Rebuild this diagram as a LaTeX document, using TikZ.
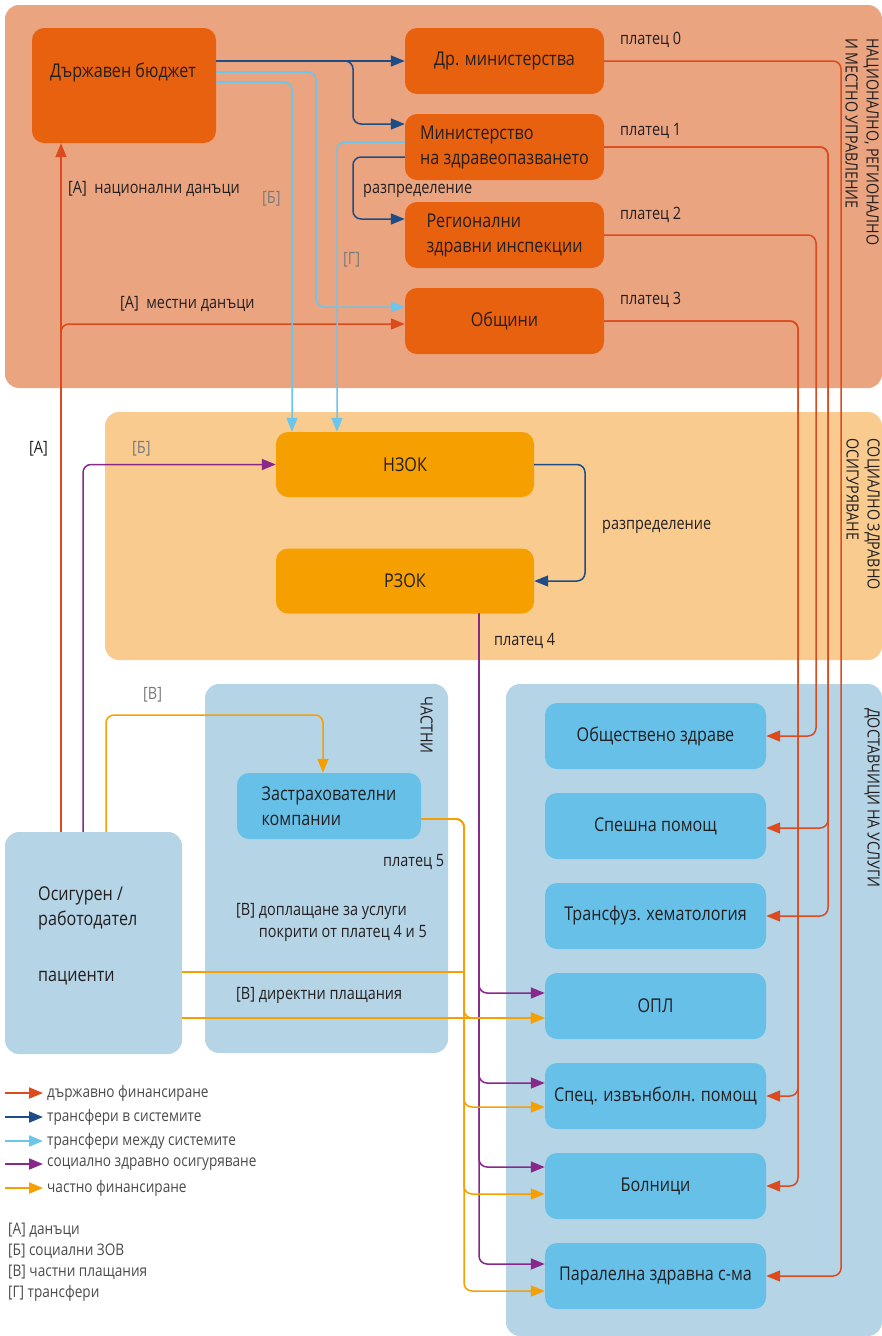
\documentclass[tikz,border=0pt]{standalone}
\usepackage{fontspec}
\setmainfont[FakeStretch=0.85]{Open Sans}
\usetikzlibrary{arrows.meta}

\definecolor{govbg}{HTML}{EAA480}
\definecolor{govfill}{HTML}{E8610F}
\definecolor{socbg}{HTML}{F9CB8F}
\definecolor{socfill}{HTML}{F5A000}
\definecolor{provbg}{HTML}{B5D4E6}
\definecolor{provfill}{HTML}{66C0E8}
\definecolor{redline}{HTML}{DC4A1D}
\definecolor{darkblue}{HTML}{1E4C87}
\definecolor{lightblue}{HTML}{6CC5EC}
\definecolor{purpleline}{HTML}{88288B}
\definecolor{orangeline}{HTML}{F5A000}
\definecolor{bracketgray}{HTML}{7A7A7A}
\definecolor{legendgray}{HTML}{4A4A4A}
\definecolor{textblack}{HTML}{231F20}

\newcommand\boxsize{\fontsize{19}{25}\selectfont}
\newcommand\labelsize{\fontsize{17}{22}\selectfont}

\tikzset{
  govbox/.style={fill=govfill, rounded corners=12pt, minimum width=199pt, minimum height=66pt, inner sep=0pt, font=\boxsize, text=textblack},
  socbox/.style={fill=socfill, rounded corners=12pt, minimum width=258pt, minimum height=65pt, inner sep=0pt, font=\boxsize, text=textblack},
  provbox/.style={fill=provfill, rounded corners=12pt, minimum width=221pt, minimum height=66pt, inner sep=0pt, font=\boxsize, text=textblack},
  boxtext/.style={inner sep=0pt, font=\boxsize, text=textblack},
  lbl/.style={inner sep=0pt, font=\labelsize, text=textblack, anchor=west},
  graylbl/.style={lbl, text=bracketgray},
  vlbl/.style={inner sep=0pt, font=\fontsize{16.8}{21}\selectfont, text=textblack, rotate=-90, align=left, anchor=north west},
  legtext/.style={inner sep=0pt, font=\fontsize{16}{21}\selectfont, text=legendgray, anchor=west},
  flow/.style={line width=1.5pt, rounded corners=8pt},
  govflow/.style={flow, draw=redline},
  inflow/.style={flow, draw=darkblue},
  crossflow/.style={flow, draw=lightblue},
  socflow/.style={flow, draw=purpleline},
  privflow/.style={flow, draw=orangeline},
}

\begin{document}
\begin{tikzpicture}[x=1pt,y=-1pt,>={Triangle[length=14pt,width=11pt]}]
\useasboundingbox (0,0) rectangle (882,1336);

% regions
\fill[govbg,rounded corners=14pt] (5,5) rectangle (882,388);
\fill[socbg,rounded corners=14pt] (105,412) rectangle (882,660);
\fill[provbg,rounded corners=14pt] (205,684) rectangle (448,1053);
\fill[provbg,rounded corners=14pt] (506,684) rectangle (882,1336);

\node[vlbl] at (879,38) {НАЦИОНАЛНО, РЕГИОНАЛНО\\И МЕСТНО УПРАВЛЕНИЕ};
\node[vlbl] at (880,438) {СОЦИАЛНО ЗДРАВНО\\ОСИГУРЯВАНЕ};
\node[vlbl] at (433,696) {ЧАСТНИ};
\node[vlbl] at (880,708) {ДОСТАВЧИЦИ НА УСЛУГИ};

% government
\node[govbox,minimum width=184pt,minimum height=115pt] (ddb) at (124,85.5) {};
\node[boxtext] at (123,73) {Държавен бюджет};
\node[govbox] (dmin) at (504.5,61) {Др. министерства};
\node[govbox,align=left] (mz) at (504.5,147) {Министерство\\на здравеопазването};
\node[govbox,align=left] (rzi) at (504.5,235) {Регионални\\здравни инспекции};
\node[govbox] (mun) at (504.5,321) {Общини};

% social insurance
\node[socbox] (nzok) at (405,464.5) {НЗОК};
\node[socbox] (rzok) at (405,581) {РЗОК};

% private
\node[provbox,minimum width=184pt,align=left] (ins) at (329,806) {Застрахователни\\компании};
\node[fill=provbg,rounded corners=14pt,minimum width=177pt,minimum height=222pt,inner sep=0pt] (pat) at (93.5,943) {};
\node[boxtext,align=left,anchor=west] at (38,936) {Осигурен /\\работодател\\[31pt]пациенти};

% providers
\node[provbox] (obz) at (655.5,736) {Обществено здраве};
\node[provbox] (spesh) at (655.5,826) {Спешна помощ};
\node[provbox] (trans) at (655.5,916) {Трансфуз. хематология};
\node[provbox] (opl) at (655.5,1006) {ОПЛ};
\node[provbox] (spec) at (655.5,1096) {Спец. извънболн. помощ};
\node[provbox] (bol) at (655.5,1186) {Болници};
\node[provbox] (par) at (655.5,1276) {Паралелна здравна с-ма};

% columns of the connectors
\coordinate (cA) at (61,0);
\coordinate (cF) at (83,0);
\coordinate (cJ) at (106,0);
\coordinate (cD) at (292,0);
\coordinate (cC) at (316,0);
\coordinate (cE) at (337,0);
\coordinate (cB) at (353,0);
\coordinate (cH) at (464,0);
\coordinate (cG) at (479,0);
\coordinate (cK) at (585,0);
\coordinate (c3) at (798,0);
\coordinate (c2) at (816,0);
\coordinate (c1) at (828,0);
\coordinate (c0) at (841,0);
\coordinate (vtop) at (323,715);

% taxes
\draw[govflow,->] (cA |- pat.north) -- (cA |- ddb.south);
\draw[govflow,->] (cA |- pat.north) |- ([yshift=-3pt]mun.west);

% state budget
\draw[inflow,->] (ddb.east |- dmin.west) -- (dmin.west);
\draw[inflow,->] (ddb.east |- dmin.west) -| ([yshift=23pt]mz.west -| cB) -- ([yshift=23pt]mz.west);
\draw[inflow,->] ([yshift=-10pt]mz.west) -| ([yshift=16pt]rzi.west -| cB) -- ([yshift=16pt]rzi.west);
\draw[crossflow,->] ([yshift=13.5pt]ddb.east) -| ([yshift=14pt]mun.west -| cC) -- ([yshift=14pt]mun.west);
\draw[crossflow,->] ([yshift=3.5pt]ddb.east) -| (cD |- nzok.north);
\draw[crossflow,->] ([yshift=5pt]mz.west) -| (cE |- nzok.north);

% payers 0-3
\draw[govflow,->] (dmin.east) -| (par.east -| c0) -- (par.east);
\draw[govflow,->] (mz.east) -| (trans.east -| c1) -- (trans.east);
\draw[govflow,->] (mz.east) -| ([yshift=-2pt]spesh.east -| c1) -- ([yshift=-2pt]spesh.east);
\draw[govflow,->] (rzi.east) -| (obz.east -| c2) -- (obz.east);
\draw[govflow,->] (mun.east) -| (bol.east -| c3) -- (bol.east);
\draw[govflow,->] (mun.east) -| (spec.east -| c3) -- (spec.east);

% social insurance
\draw[socflow,->] (cF |- pat.north) |- (nzok.west);
\draw[inflow,->] (nzok.east) -| (cK |- rzok.east) -- (rzok.east);
\draw[socflow,->] (cG |- rzok.south) |- ([yshift=13pt]opl.west);
\draw[socflow,->] (cG |- rzok.south) |- ([yshift=13pt]spec.west);
\draw[socflow,->] (cG |- rzok.south) |- ([yshift=19pt]bol.west);
\draw[socflow,->] (cG |- rzok.south) |- ([yshift=12pt]par.west);

% private payments
\draw[privflow,->] (cJ |- pat.north) |- (vtop) -- (vtop |- ins.north);
\draw[privflow,->] ([yshift=-13pt]ins.east) -| ([yshift=-12pt]opl.west -| cH) -- ([yshift=-12pt]opl.west);
\draw[privflow,->] ([yshift=-13pt]ins.east) -| ([yshift=-11pt]spec.west -| cH) -- ([yshift=-11pt]spec.west);
\draw[privflow,->] ([yshift=-13pt]ins.east) -| ([yshift=-8pt]bol.west -| cH) -- ([yshift=-8pt]bol.west);
\draw[privflow,->] ([yshift=-13pt]ins.east) -| ([yshift=-15pt]par.west -| cH) -- ([yshift=-15pt]par.west);
\draw[privflow] ([yshift=-29pt]pat.east) -- ([yshift=-29pt]pat.east -| cH);
\draw[privflow,->] ([yshift=-12pt]opl.west -| pat.east) -- ([yshift=-12pt]opl.west);

% labels
\node[lbl] at (620,40) {платец 0};
\node[lbl] at (620,131) {платец 1};
\node[lbl] at (620,215) {платец 2};
\node[lbl] at (620,300) {платец 3};
\node[lbl] at (68,189) {[А]\ \ национални данъци};
\node[graylbl] at (262,199) {[Б]};
\node[lbl] at (363,191) {разпределение};
\node[graylbl] at (343,260) {[Г]};
\node[lbl] at (120,304) {[А]\ \ местни данъци};
\node[lbl] at (29,449) {[А]};
\node[graylbl] at (132,449) {[Б]};
\node[lbl] at (602,527) {разпределение};
\node[lbl] at (494,641) {платец 4};
\node[graylbl] at (143,695) {[В]};
\node[lbl] at (383,862) {платец 5};
\node[lbl,align=left] at (236,922) {[В] доплащане за услуги\\\phantom{[В] }покрити от платец 4 и 5};
\node[lbl] at (236,995) {[В] директни плащания};

% legend
\node[legtext] (lgA) at (47,1093) {държавно финансиране};
\node[legtext] (lgB) at (47,1117) {трансфери в системите};
\node[legtext] (lgC) at (47,1141) {трансфери между системите};
\node[legtext] (lgD) at (47,1164) {социално здравно осигуряване};
\node[legtext] (lgE) at (47,1188) {частно финансиране};
\draw[govflow,line width=2pt,->] ([xshift=-42pt]lgA.west) -- ([xshift=-4pt]lgA.west);
\draw[inflow,line width=2pt,->] ([xshift=-42pt]lgB.west) -- ([xshift=-4pt]lgB.west);
\draw[crossflow,line width=2pt,->] ([xshift=-42pt]lgC.west) -- ([xshift=-4pt]lgC.west);
\draw[socflow,line width=2pt,->] ([xshift=-42pt]lgD.west) -- ([xshift=-4pt]lgD.west);
\draw[privflow,line width=2pt,->] ([xshift=-42pt]lgE.west) -- ([xshift=-4pt]lgE.west);

\node[legtext] at (8,1230) {[А] данъци};
\node[legtext] at (8,1251) {[Б] социални ЗОВ};
\node[legtext] at (8,1272) {[В] частни плащания};
\node[legtext] at (8,1293) {[Г] трансфери};

\end{tikzpicture}
\end{document}
